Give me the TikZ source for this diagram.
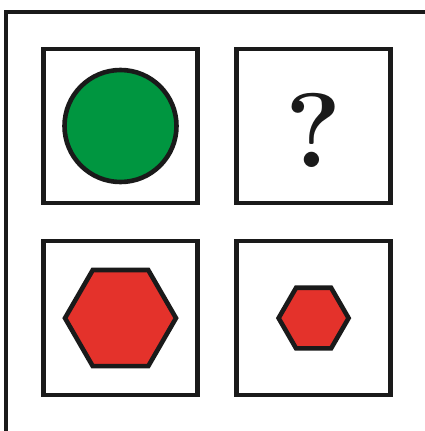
\documentclass[tikz,border=0pt]{standalone}
\usepackage{fontspec}
\usepackage{tikz}
\usetikzlibrary{positioning,shapes.geometric}

\definecolor{inkblack}{HTML}{1A1A1A}
\definecolor{discgreen}{HTML}{009640}
\definecolor{hexred}{HTML}{E4322B}

\begin{document}
\begin{tikzpicture}[x=1pt,y=-1pt,line width=4.6pt,
  panel/.style={draw=inkblack,rectangle,minimum size=154pt,inner sep=0pt},
  disc/.style={draw=inkblack,fill=discgreen,circle,minimum size=112pt,inner sep=0pt},
  hexa/.style={draw=inkblack,fill=hexred,regular polygon,regular polygon sides=6,inner sep=0pt},
  ]
  \fill[white] (0,0) rectangle (425,431);
  \useasboundingbox (0,0) rectangle (425,431);
  % outer frame, only top and left sides
  \coordinate (frametop) at (425,12);
  \coordinate (framecorner) at (6,12);
  \coordinate (framebottom) at (6,431);
  \draw[inkblack] (frametop) -- (framecorner) -- (framebottom);
  % the four panels
  \node[panel] (tl) at (120.5,126) {};
  \node[panel,right=34.5pt of tl] (tr) {};
  \node[panel,below=33.5pt of tl] (bl) {};
  \node[panel,below=33.5pt of tr] (br) {};
  % shapes inside
  \node[disc] (circ) at (tl.center) {};
  \node[inner sep=0pt,text=inkblack,font=\fontsize{106}{106}\selectfont\bfseries] (quest) at ([yshift=-4pt]tr.center) {?};
  \node[hexa,minimum size=111pt] (bighex) at (bl.center) {};
  \node[hexa,minimum size=70pt] (smallhex) at (br.center) {};
\end{tikzpicture}
\end{document}
